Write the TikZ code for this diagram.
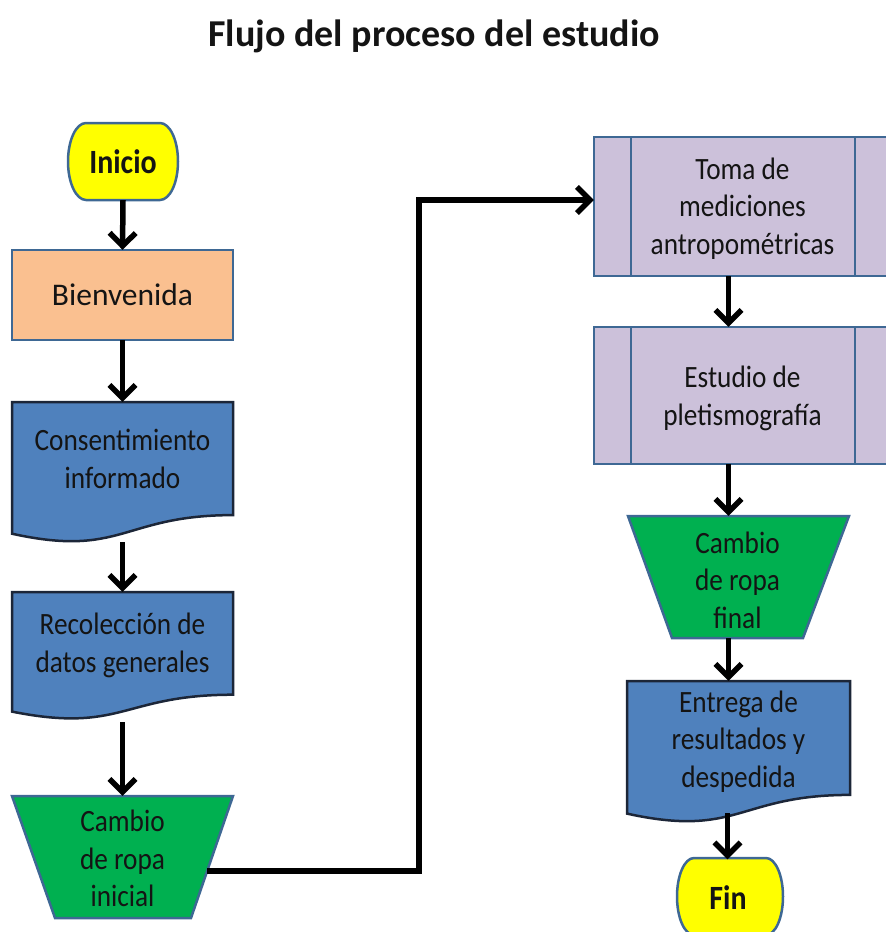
\documentclass[tikz,border=0pt]{standalone}
\usepackage{fontspec}
\setmainfont{Carlito}
\newfontfamily\bodyfont{Carlito}[FakeStretch=0.88]
\usetikzlibrary{arrows.meta,calc}
\definecolor{edgeblue}{HTML}{3E6894}
\definecolor{docedge}{HTML}{1C2638}
\definecolor{yel}{HTML}{FFFF00}
\definecolor{peach}{HTML}{FAC090}
\definecolor{docblue}{HTML}{4F81BD}
\definecolor{grn}{HTML}{00B050}
\definecolor{lav}{HTML}{CCC1DA}
\definecolor{ink}{HTML}{141414}
\tikzset{
  lbl/.style={draw=none, inner sep=0pt, align=center, text=ink,
    font=\bodyfont\fontsize{31}{37.5}\selectfont},
  termlbl/.style={lbl, font=\bodyfont\bfseries\fontsize{34}{37.5}\selectfont},
  termshape/.style={fill=yel, draw=edgeblue, line width=2.5pt},
  procshape/.style={fill=peach, draw=edgeblue, line width=2.5pt},
  docshape/.style={fill=docblue, draw=docedge, line width=2.5pt},
  manshape/.style={fill=grn, draw=edgeblue, line width=2.5pt},
  preshape/.style={fill=lav, draw=edgeblue, line width=2.5pt},
  arr/.style={draw=black, line width=5.5pt, -{Straight Barb[length=13pt,width=26pt]}},
}
\begin{document}
\begin{tikzpicture}[x=1pt,y=-1pt]
\useasboundingbox (0,0) rectangle (886,932);
\clip (0,0) rectangle (886,932);

% ---------- shapes ----------
% Inicio
\path[termshape] (86,123) -- (160,123) arc[start angle=-90,end angle=90,x radius=18,y radius=38.5]
  -- (86,200) arc[start angle=90,end angle=270,x radius=18,y radius=38.5] -- cycle;
% Bienvenida
\path[procshape] (12,250) rectangle (233,340);
% Consentimiento (document)
\path[docshape] (12,402) -- (233,402) -- (233,515.1)
  .. controls (122.5,515.1) and (122.5,558.1) .. (12,533.7) -- cycle;
% Recoleccion (document)
\path[docshape] (12,592) -- (233,592) -- (233,694.7)
  .. controls (122.5,694.7) and (122.5,733.7) .. (12,711.6) -- cycle;
% Cambio inicial (manual operation)
\path[manshape] (12,796) -- (233,796) -- (191,918) -- (55,918) -- cycle;
% Toma de mediciones (predefined process)
\path[preshape] (594,137) rectangle (892,276);
\draw[edgeblue, line width=2.5pt] (631,137) -- (631,276) (855,137) -- (855,276);
% Estudio de pletismografia
\path[preshape] (594,327) rectangle (892,464);
\draw[edgeblue, line width=2.5pt] (631,327) -- (631,464) (855,327) -- (855,464);
% Cambio final
\path[manshape] (628,516) -- (849,516) -- (803,638) -- (672,638) -- cycle;
% Entrega (document)
\path[docshape] (627,681) -- (850,681) -- (850,794.9)
  .. controls (738.5,794.9) and (738.5,838.2) .. (627,813.6) -- cycle;
% Fin
\path[termshape] (694,858) -- (766,858) arc[start angle=-90,end angle=90,x radius=17,y radius=38.5]
  -- (694,935) arc[start angle=90,end angle=270,x radius=17,y radius=38.5] -- cycle;

% ---------- title ----------
\node[lbl, font=\bfseries\fontsize{38}{40}\selectfont] (title) at (434,36) {Flujo del proceso del estudio};

% ---------- labelled nodes ----------
\node[termlbl, minimum width=110, minimum height=77] (ini) at (123,161.5) {Inicio};
\node[lbl, font=\fontsize{31.5}{37.5}\selectfont, minimum width=221, minimum height=90] (bien) at (122.5,295) {Bienvenida};
\node[lbl, minimum width=221, minimum height=114] (cons) at (122.5,459) {Consentimiento\\informado};
\node[lbl, minimum width=221, minimum height=107] (rec) at (122.5,645.5) {Recolección de\\datos generales};
\node[lbl, minimum width=171, minimum height=125] (ci) at (122.5,858.5) {Cambio\\de ropa\\inicial};
\node[lbl, minimum width=297, minimum height=143] (toma) at (742.5,208.5) {Toma de\\mediciones\\antropométricas};
\node[lbl, minimum width=297, minimum height=143] (est) at (742.5,398.5) {Estudio de\\pletismografía};
\node[lbl, minimum width=221, minimum height=128] (cf) at (737.5,580) {Cambio\\de ropa\\final};
\node[lbl, minimum width=223, minimum height=121] (ent) at (738.5,741.5) {Entrega de\\resultados y\\despedida};
\node[termlbl, minimum width=106, minimum height=77] (fin) at (728,898) {Fin};

% ---------- connectors ----------
\coordinate (ciout) at (207,871);
\coordinate (j1) at (419,871);
\coordinate (j2) at (419,200);

\draw[arr] (ini.south) -- (bien.north);
\draw[arr] (bien.south) -- (cons.north);
\draw[arr, shorten <=26pt] (cons.south) -- (rec.north);
\draw[arr, shorten <=23pt] (rec.south) -- (ci.north);
\draw[arr] (ciout) -- (j1) -- (j2) -- (j2 -| toma.west);
\draw[arr, shorten <=-4pt] ([xshift=-14pt]toma.south) -- ([xshift=-14pt]est.north);
\draw[arr, shorten <=-6pt] ([xshift=-14pt]est.south) -- ([xshift=-14pt]est.south |- cf.north);
\draw[arr, shorten <=-6pt] ([xshift=-9pt]cf.south) -- ([xshift=-9pt]cf.south |- ent.north);
\draw[arr, shorten <=11pt] ([xshift=-11pt]ent.south) -- ([xshift=-11pt]ent.south |- fin.north);
\end{tikzpicture}
\end{document}
